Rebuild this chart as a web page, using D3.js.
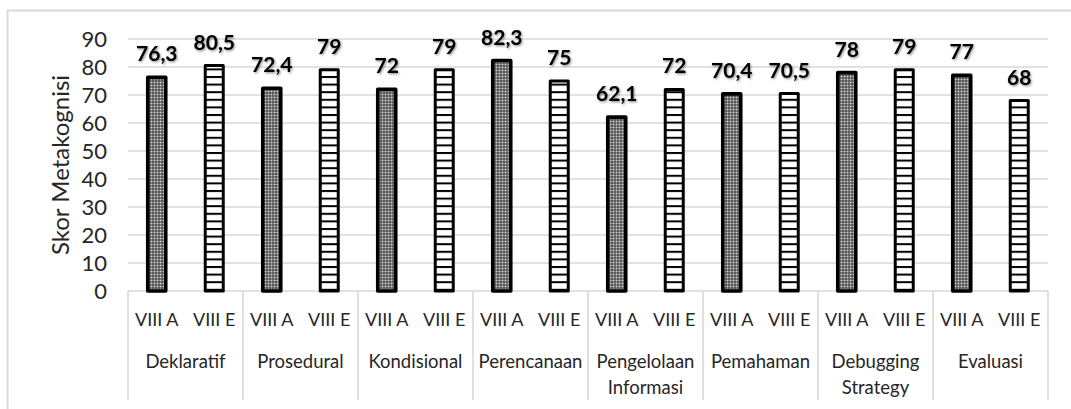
<!DOCTYPE html>
<html>
<head>
<meta charset="utf-8">
<script src="https://cdn.jsdelivr.net/npm/d3@7"></script>
<style>
  html, body { margin: 0; padding: 0; background: #fff; }
  svg { display: block; }
</style>
</head>
<body>
<svg id="chart" width="1071" height="409"></svg>
<script>
// ---- data ----
const categories = ["Deklaratif", "Prosedural", "Kondisional", "Perencanaan", "Pengelolaan\nInformasi", "Pemahaman", "Debugging\nStrategy", "Evaluasi"];
const seriesNames = ["VIII A", "VIII E"];
const valuesA = [76.3, 72.4, 72, 82.3, 62.1, 70.4, 78, 77];
const valuesE = [80.5, 79, 79, 75, 72, 70.5, 79, 68];
const yTicks = [0, 10, 20, 30, 40, 50, 60, 70, 80, 90];
const yTitle = "Skor Metakognisi";

const rows = [];
categories.forEach((c, i) => {
  rows.push({cat: c, s: seriesNames[0], v: valuesA[i]});
  rows.push({cat: c, s: seriesNames[1], v: valuesE[i]});
});

const font = "Lato, 'Open Sans', sans-serif";
const svg = d3.select("#chart");
const W = 1071, H = 409;
const plot = {left: 128, right: 1048, top: 39, bottom: 291};

const defs = svg.append("defs");
// dotted pattern for VIII A
const pd = defs.append("pattern").attr("id", "dots").attr("patternUnits", "userSpaceOnUse")
  .attr("width", 3).attr("height", 3);
pd.append("rect").attr("width", 3).attr("height", 3).attr("fill", "#333");
pd.append("rect").attr("x", 0.5).attr("y", 0.5).attr("width", 2).attr("height", 2).attr("fill", "#d4d4d4");
// horizontal stripes for VIII E
const ps = defs.append("pattern").attr("id", "stripes").attr("patternUnits", "userSpaceOnUse")
  .attr("width", 8).attr("height", 7.6);
ps.append("rect").attr("width", 8).attr("height", 7.6).attr("fill", "#fff");
ps.append("rect").attr("y", 0).attr("width", 8).attr("height", 2).attr("fill", "#000");
// text shadow
const f = defs.append("filter").attr("id", "shadow").attr("x", "-20%").attr("y", "-20%").attr("width", "150%").attr("height", "150%");
f.append("feDropShadow").attr("dx", 1).attr("dy", 1.2).attr("stdDeviation", 0.9)
  .attr("flood-color", "#000").attr("flood-opacity", 0.45);

// outer frame
svg.append("rect").attr("x", 7.5).attr("y", 10.5).attr("width", W + 20).attr("height", H + 20)
  .attr("fill", "#fff").attr("stroke", "#d9d9d9").attr("stroke-width", 2);

const x0 = d3.scaleBand().domain(categories).range([plot.left, plot.right]).padding(0);
const x1 = d3.scaleBand().domain(seriesNames).range([0, x0.bandwidth()])
  .paddingInner(0.687).paddingOuter(0.3435);
const y = d3.scaleLinear().domain([0, 90]).range([plot.bottom, plot.top]);

// gridlines
svg.append("g").selectAll("line").data(yTicks).join("line")
  .attr("x1", plot.left).attr("x2", plot.right)
  .attr("y1", d => y(d)).attr("y2", d => y(d))
  .attr("stroke", "#d9d9d9").attr("stroke-width", 1.6);

// y axis labels
const yAxis = d3.axisLeft(y).tickValues(yTicks).tickSize(0).tickPadding(21);
const ya = svg.append("g").attr("transform", `translate(${plot.left},0)`).call(yAxis);
ya.select(".domain").remove();
ya.selectAll("text").attr("font-family", font).attr("font-size", 22).attr("fill", "#262626");

// y title
svg.append("text")
  .attr("transform", `translate(69,${(plot.top + plot.bottom) / 2}) rotate(-90)`)
  .attr("text-anchor", "middle")
  .attr("font-family", font).attr("font-size", 24).attr("fill", "#262626")
  .text(yTitle);

// category dividers
const bounds = categories.map(c => x0(c)).concat([plot.right]);
svg.append("g").selectAll("line").data(bounds).join("line")
  .attr("x1", d => d).attr("x2", d => d)
  .attr("y1", plot.bottom).attr("y2", 400)
  .attr("stroke", "#d9d9d9").attr("stroke-width", 1.6);

// bars
svg.append("g").selectAll("rect").data(rows).join("rect")
  .attr("x", d => x0(d.cat) + x1(d.s))
  .attr("width", x1.bandwidth())
  .attr("y", d => y(d.v))
  .attr("height", d => y(0) - y(d.v))
  .attr("fill", d => d.s === seriesNames[0] ? "url(#dots)" : "url(#stripes)")
  .attr("stroke", "#000")
  .attr("stroke-width", d => d.s === seriesNames[0] ? 3.6 : 3)
  .attr("stroke-linejoin", "round");

// data labels
svg.append("g").selectAll("text").data(rows).join("text")
  .attr("x", d => x0(d.cat) + x1(d.s) + x1.bandwidth() / 2)
  .attr("y", d => y(d.v) - 16)
  .attr("text-anchor", "middle")
  .attr("font-family", font).attr("font-weight", "bold").attr("font-size", 21)
  .attr("fill", "#000")
  .attr("filter", "url(#shadow)")
  .text(d => String(d.v).replace(".", ","));

// series labels under bars
svg.append("g").selectAll("text").data(rows).join("text")
  .attr("x", d => x0(d.cat) + x1(d.s) + x1.bandwidth() / 2)
  .attr("y", 326)
  .attr("text-anchor", "middle")
  .attr("font-family", font).attr("font-size", 18).attr("fill", "#262626")
  .text(d => d.s);

// category labels
const cl = svg.append("g").selectAll("text").data(categories).join("text")
  .attr("x", d => x0(d) + x0.bandwidth() / 2)
  .attr("y", 368)
  .attr("text-anchor", "middle")
  .attr("font-family", font).attr("font-size", 18.5).attr("fill", "#262626");
cl.each(function(d) {
  const lines = d.split("\n");
  d3.select(this).selectAll("tspan").data(lines).join("tspan")
    .attr("x", x0(d) + x0.bandwidth() / 2)
    .attr("dy", (l, i) => i === 0 ? 0 : 26)
    .text(l => l);
});
</script>
</body>
</html>
